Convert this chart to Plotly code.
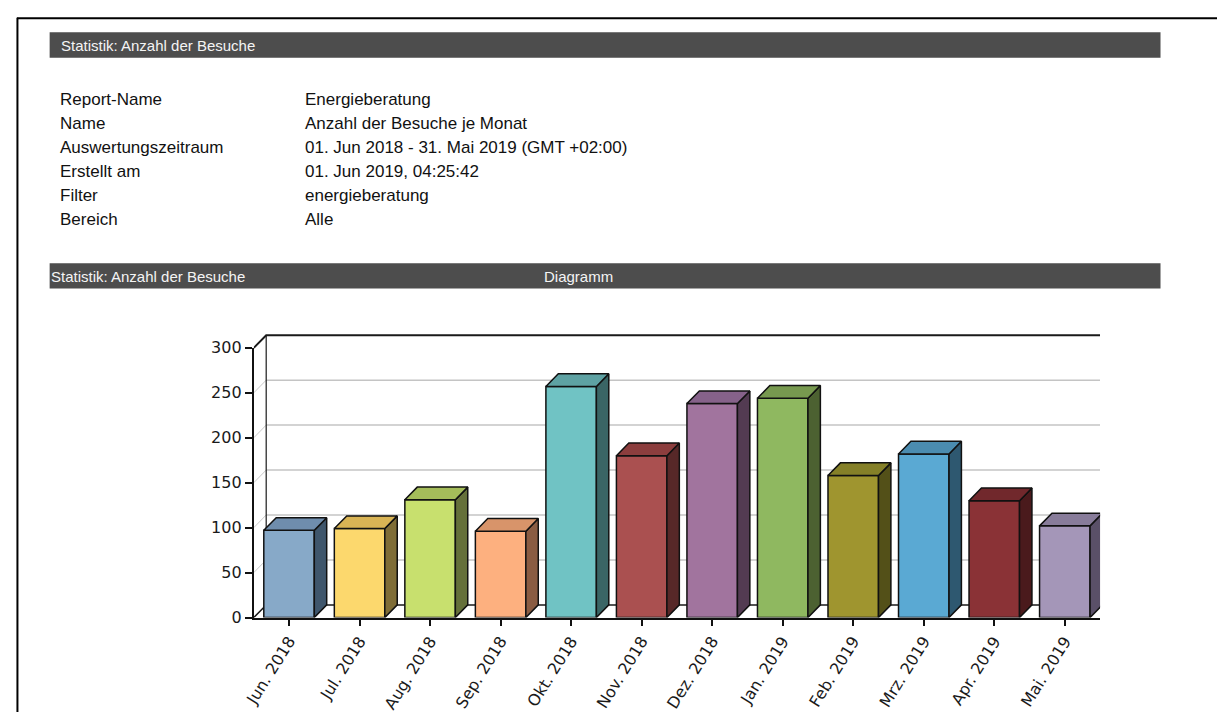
import plotly.graph_objects as go

# ---- data -------------------------------------------------------------
months = ["Jun. 2018", "Jul. 2018", "Aug. 2018", "Sep. 2018", "Okt. 2018", "Nov. 2018",
          "Dez. 2018", "Jan. 2019", "Feb. 2019", "Mrz. 2019", "Apr. 2019", "Mai. 2019"]
visits = [97, 99, 131, 96, 257, 180, 238, 244, 158, 182, 130, 102]
y_ticks = [0, 50, 100, 150, 200, 250, 300]

front_colors = ["#87A9C8", "#FCD86D", "#C8E06E", "#FDB07F", "#70C3C4", "#AA5050",
                "#A1749E", "#8FB860", "#9F952F", "#5AA9D3", "#8A3236", "#A496B8"]
top_colors = ["#6F8DAD", "#D9B455", "#A4BC5A", "#D8946A", "#5EA2A3", "#8C3E3E",
              "#86628A", "#77994F", "#858028", "#4B8CB0", "#71282C", "#887C9A"]
side_colors = ["#3F566C", "#7F6D37", "#65703A", "#8A5C42", "#3A6565", "#572828",
               "#533B52", "#4C6131", "#535018", "#2E5870", "#4A1A1C", "#5A5068"]

info_labels = ["Report-Name", "Name", "Auswertungszeitraum", "Erstellt am", "Filter", "Bereich"]
info_values = ["Energieberatung", "Anzahl der Besuche je Monat",
               "01. Jun 2018 - 31. Mai 2019 (GMT +02:00)", "01. Jun 2019, 04:25:42",
               "energieberatung", "Alle"]

header_title = "Statistik: Anzahl der Besuche"
header_chart = "Diagramm"

# ---- page geometry (pixels) ------------------------------------------
W, H = 1217, 722


def px(x):
    return x / W


def py(y):
    return 1 - y / H


plot_left, plot_right = 245, 1099
base_px, top_px = 625, 348          # y = 0 and y = 300 on the front axis
wall_top_px = 325                   # top of the back-wall area
y_max = y_ticks[-1]
unit_px = (base_px - top_px) / y_max
wall_range = (base_px - wall_top_px) / unit_px

bar_width = 0.716
depth_x = 0.176                      # category units
depth_y = 13.0 / unit_px             # value units
x0, x1 = -0.5, len(months) - 0.5

fig = go.Figure()

# ---- back wall, floor and side wall (subplot x/y, drawn underneath) ----
def wall_line(xs, ys, color, width):
    fig.add_trace(go.Scatter(x=xs, y=ys, mode="lines", xaxis="x", yaxis="y",
                             line=dict(color=color, width=width),
                             hoverinfo="skip", showlegend=False))


for v in y_ticks[1:-1]:
    wall_line([x0 + depth_x, x1], [v + depth_y, v + depth_y], "#C4C4C4", 1.5)
    wall_line([x0, x0 + depth_x], [v, v + depth_y], "#C8C8C8", 1)
wall_line([x0, x0 + depth_x, x1], [y_max, y_max + depth_y, y_max + depth_y], "#1A1A1A", 2)
wall_line([x0, x0 + depth_x, x1], [0, depth_y, depth_y], "#1A1A1A", 1.5)
wall_line([x0 + depth_x, x0 + depth_x], [depth_y, y_max + depth_y], "#1A1A1A", 1.2)

# ---- bars: front faces --------------------------------------------------
idx = list(range(len(months)))
fig.add_trace(go.Bar(x=idx, y=visits, width=bar_width, xaxis="x2", yaxis="y2",
                     marker=dict(color=front_colors, line=dict(color="#111111", width=1.5)),
                     hoverinfo="skip", showlegend=False))

# ---- bars: side and top faces -----------------------------------------
hw = bar_width / 2
for i, v in enumerate(visits):
    xs_side = [i + hw, i + hw + depth_x, i + hw + depth_x, i + hw, i + hw]
    ys_side = [0, depth_y, v + depth_y, v, 0]
    fig.add_trace(go.Scatter(x=xs_side, y=ys_side, mode="lines", fill="toself",
                             fillcolor=side_colors[i], xaxis="x2", yaxis="y2",
                             line=dict(color="#111111", width=1.5),
                             hoverinfo="skip", showlegend=False))
    xs_top = [i - hw, i + hw, i + hw + depth_x, i - hw + depth_x, i - hw]
    ys_top = [v, v, v + depth_y, v + depth_y, v]
    fig.add_trace(go.Scatter(x=xs_top, y=ys_top, mode="lines", fill="toself",
                             fillcolor=top_colors[i], xaxis="x2", yaxis="y2",
                             line=dict(color="#111111", width=1.5),
                             hoverinfo="skip", showlegend=False))

# ---- page decoration: border, header bars, report info ----------------
shapes = [
    dict(type="line", xref="paper", yref="paper", x0=px(6), x1=1, y0=py(9.5), y1=py(9.5),
         line=dict(color="#000000", width=2)),
    dict(type="line", xref="paper", yref="paper", x0=px(6.5), x1=px(6.5), y0=py(9), y1=0,
         line=dict(color="#000000", width=2)),
    dict(type="rect", xref="paper", yref="paper", x0=px(39), x1=px(1160), y0=py(24), y1=py(50),
         fillcolor="#4D4D4D", line=dict(width=0), layer="below"),
    dict(type="rect", xref="paper", yref="paper", x0=px(39), x1=px(1160), y0=py(261), y1=py(287),
         fillcolor="#4D4D4D", line=dict(width=0), layer="below"),
]

annotations = []
head_font = dict(family="Liberation Sans, Arial", size=15, color="#F4F4F4")
annotations.append(dict(text=header_title, x=px(48), y=py(37.5), xref="paper", yref="paper",
                        xanchor="left", yanchor="middle", showarrow=False, font=head_font))
annotations.append(dict(text=header_title, x=px(38), y=py(274.5), xref="paper", yref="paper",
                        xanchor="left", yanchor="middle", showarrow=False, font=head_font))
annotations.append(dict(text=header_chart, x=px(536), y=py(274.5), xref="paper", yref="paper",
                        xanchor="left", yanchor="middle", showarrow=False, font=head_font))

info_font = dict(family="Liberation Sans, Arial", size=17, color="#111111")
row_y0, row_step = 93, 24.7
for k, (lab, val) in enumerate(zip(info_labels, info_values)):
    yy = py(row_y0 + k * row_step)
    annotations.append(dict(text=lab, x=px(47), y=yy, xref="paper", yref="paper",
                            xanchor="left", yanchor="middle", showarrow=False, font=info_font))
    annotations.append(dict(text=val, x=px(295), y=yy, xref="paper", yref="paper",
                            xanchor="left", yanchor="middle", showarrow=False, font=info_font))

tick_font = dict(family="DejaVu Sans", size=16, color="#1A1A1A")

fig.update_layout(
    width=W, height=H,
    margin=dict(l=0, r=0, t=0, b=0),
    paper_bgcolor="#FFFFFF",
    plot_bgcolor="rgba(0,0,0,0)",
    showlegend=False,
    shapes=shapes,
    annotations=annotations,
    xaxis=dict(domain=[px(plot_left), px(plot_right)], range=[x0, x1], visible=False,
               anchor="y", fixedrange=True),
    yaxis=dict(domain=[py(base_px), py(wall_top_px)], range=[0, wall_range], visible=False,
               anchor="x", fixedrange=True),
    xaxis2=dict(domain=[px(plot_left), px(plot_right)], range=[x0, x1], anchor="y2",
                tickmode="array", tickvals=idx, ticktext=months, tickangle=-58,
                ticks="outside", ticklen=6, tickwidth=1.5, tickcolor="#111111",
                showline=True, linecolor="#111111", linewidth=2,
                showgrid=False, zeroline=False, tickfont=tick_font, fixedrange=True),
    yaxis2=dict(domain=[py(base_px), py(top_px)], range=[0, y_max], anchor="x2",
                tickmode="array", tickvals=y_ticks,
                ticks="outside", ticklen=7, tickwidth=1.5, tickcolor="#111111",
                showline=True, linecolor="#111111", linewidth=2,
                showgrid=False, zeroline=False,
                tickfont=dict(family="DejaVu Sans", size=16, color="#1A1A1A"),
                fixedrange=True),
)

fig.write_html("out.html",
               post_script="document.body.style.margin='0';document.body.style.overflow='hidden';")
